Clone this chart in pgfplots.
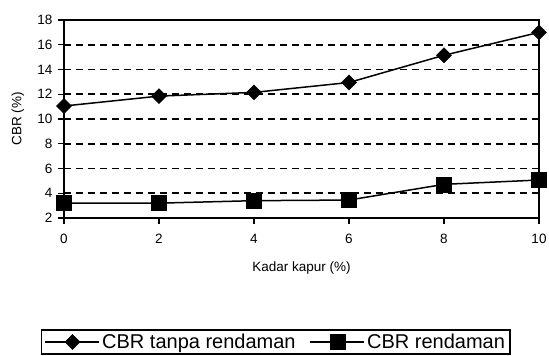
\documentclass[border=0pt]{standalone}
\usepackage{pgfplots}
\pgfplotsset{compat=1.18}
\usepackage{fontspec}
\setmainfont{Liberation Sans}
\begin{document}
\begin{tikzpicture}[x=1pt,y=1pt]
\path[use as bounding box] (0,0) rectangle (549,356);
\begin{axis}[
  at={(64pt,138pt)}, anchor=south west,
  scale only axis, width=475pt, height=198pt,
  xmin=0, xmax=10, ymin=2, ymax=18,
  xtick={0,2,...,10}, ytick={2,4,...,18},
  xtick pos=bottom, ytick pos=left,
  tick align=outside, major tick length=6pt,
  tick style={black, line width=1.4pt},
  axis line style={black, line width=1.6pt},
  ymajorgrids,
  grid style={black, line width=1.6pt, dash pattern=on 7pt off 5pt},
  /pgf/number format/assume math mode=true,
  ticklabel style={font=\fontsize{13.5}{15}\selectfont},
  xticklabel style={yshift=-7pt},
  yticklabel style={xshift=-2pt},
  xlabel={Kadar kapur (\%)}, ylabel={CBR (\%)},
  every axis x label/.style={at={(axis description cs:0.5,-0.2525)}, anchor=center, font=\fontsize{13.5}{15}\selectfont},
  every axis y label/.style={at={(axis description cs:-0.097,0.5)}, rotate=90, anchor=center, font=\fontsize{13.5}{15}\selectfont},
  legend columns=2,
  legend style={at={(axis description cs:0.446,-0.626)}, anchor=center,
    draw=black, line width=1.2pt, font=\fontsize{20}{23}\selectfont,
    inner xsep=3pt, inner ysep=2pt,
    /tikz/every even column/.append style={column sep=12pt}},
  legend image code/.code={\draw[mark repeat=2, mark phase=2, #1] plot coordinates {(0pt,0pt)(27pt,0pt)(54pt,0pt)};},
]
\addplot[black, line width=1.5pt, mark=square*, mark size=5.3pt, mark options={rotate=45, solid, line width=0.5pt}]
  coordinates {(0,11.05) (2,11.85) (4,12.15) (6,12.95) (8,15.15) (10,17.0)};
\addlegendentry{CBR tanpa rendaman}
\addplot[black, line width=1.5pt, mark=square*, mark size=7.5pt, mark options={solid, line width=0.5pt}]
  coordinates {(0,3.2) (2,3.2) (4,3.4) (6,3.45) (8,4.72) (10,5.07)};
\addlegendentry{CBR rendaman}
\end{axis}
\end{tikzpicture}
\end{document}
